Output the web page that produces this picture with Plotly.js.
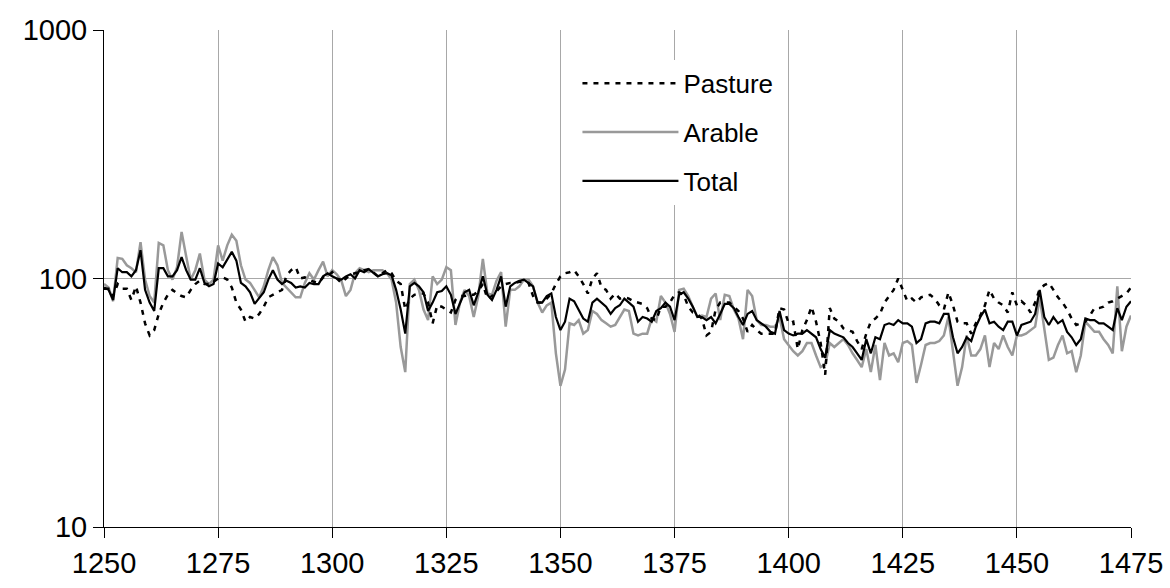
<!DOCTYPE html>
<html>
<head>
<meta charset="utf-8">
<script src="https://cdn.plot.ly/plotly-3.0.1.min.js"></script>
<style>html,body{margin:0;padding:0;background:#fff;}#chart{width:1170px;height:588px;}</style>
</head>
<body>
<div id="chart"></div>
<script>
const startYear = 1250;

const total = [
92,90,82,110,106,106,102,108,130,90,80,74,110,110,102,102,108,122,108,99,
99,110,96,93,95,115,111,120,128,118,96,93,88,79,83,88,99,108,99,95,
98,96,92,93,92,96,95,95,102,105,102,100,99,102,104,100,108,106,109,105,
102,104,105,103,90,75,60,93,96,93,88,74,80,88,89,93,86,72,80,88,
90,78,88,102,86,82,90,102,77,93,96,98,99,96,93,80,80,85,87,70,
62,67,83,81,75,69,67,80,83,80,77,72,76,78,83,80,77,67,70,69,
67,74,76,80,77,68,86,88,83,77,70,70,68,70,66,72,79,79,76,70,
65,72,74,68,66,64,61,60,74,62,60,59,60,60,62,60,58,52,48,62,
60,59,58,55,53,50,47,57,50,58,57,65,66,65,68,66,66,64,55,57,
66,67,67,66,72,72,58,50,53,58,56,64,70,75,66,67,64,62,67,67,
59,65,66,67,72,90,70,65,70,66,68,61,58,54,57,69,68,68,66,66,
64,62,76,68,77,81
];

const arable = [
95,92,81,121,120,113,110,106,140,99,85,80,139,136,108,99,111,154,123,99,
108,126,99,95,99,136,118,136,150,142,113,99,96,90,84,93,108,122,113,96,
92,88,84,84,96,105,99,108,117,102,108,104,98,85,90,105,110,108,106,108,
108,108,105,99,80,53,42,95,99,90,75,68,102,95,99,111,108,65,80,90,
85,70,85,120,87,86,98,106,64,90,90,93,99,99,93,80,73,78,80,50,
37,43,66,65,68,60,62,74,72,68,66,64,65,70,75,74,60,59,60,60,
69,67,85,80,72,61,90,91,85,77,70,71,70,83,87,68,86,85,75,69,
57,90,85,68,65,65,64,64,70,57,54,51,49,51,55,55,49,44,45,55,
53,55,57,54,50,47,44,52,42,54,39,55,49,50,46,55,56,54,38,45,
54,55,55,56,59,70,50,37,44,59,49,49,52,59,44,55,52,59,53,49,
59,59,60,62,64,84,64,47,48,54,59,50,51,42,49,67,64,61,61,57,
54,50,93,51,64,71
];

const pasture = [
91,91,85,95,91,91,82,93,80,66,59,62,72,80,86,90,87,85,84,90,
95,98,95,95,97,100,101,99,92,80,75,67,70,69,72,77,84,86,88,90,
103,108,111,100,101,99,97,96,101,102,106,100,96,100,104,105,106,108,109,106,
102,105,108,105,98,95,75,83,86,87,87,80,66,78,77,75,73,82,85,85,
86,86,89,95,83,85,89,93,95,96,96,97,97,96,85,80,80,83,87,95,
102,105,106,108,102,95,87,100,105,92,90,83,87,83,84,83,81,80,79,76,
69,68,77,77,80,86,88,86,77,73,72,69,59,61,75,80,80,80,77,74,
69,61,65,62,60,60,60,60,76,75,66,67,52,62,68,77,67,55,41,76,
69,67,63,62,61,56,52,60,67,69,72,80,85,90,100,90,81,83,80,84,
85,86,83,78,75,88,78,67,66,66,60,66,71,78,90,83,80,78,73,88,
78,81,78,73,80,91,94,96,90,84,80,75,69,65,66,67,71,76,76,77,
80,81,83,85,87,92
];

const seriesNames = ['Pasture', 'Arable', 'Total'];
const yTickVals = [10, 100, 1000];
const yTickText = ['10', '100', '1000'];
const xTickVals = [1250, 1275, 1300, 1325, 1350, 1375, 1400, 1425, 1450, 1475];

const years = total.map((_, i) => startYear + i);

const traces = [
  {x: years, y: arable, name: seriesNames[1], type: 'scatter', mode: 'lines',
   line: {color: '#999999', width: 2.5}, legendrank: 2, legendgroup: 'a'},
  {x: years, y: total, name: seriesNames[2], type: 'scatter', mode: 'lines',
   line: {color: '#000000', width: 2.2}, legendrank: 3, legendgroup: 't'},
  {x: years, y: pasture, name: seriesNames[0], type: 'scatter', mode: 'lines',
   line: {color: '#000000', width: 2.5, dash: '5px,6px'}, legendrank: 1, legendgroup: 'p'}
];

const fontFam = '"Liberation Sans", Arial, sans-serif';

const layout = {
  width: 1170, height: 588,
  margin: {l: 104, r: 39, t: 30, b: 61},
  paper_bgcolor: '#ffffff', plot_bgcolor: '#ffffff',
  font: {family: fontFam, color: '#000000'},
  showlegend: true,
  legend: {
    x: 0.461, y: 0.94, xanchor: 'left', yanchor: 'top',
    bgcolor: '#ffffff', borderwidth: 0,
    font: {family: fontFam, size: 26, color: '#000000'},
    itemwidth: 96, tracegroupgap: 12, traceorder: 'grouped'
  },
  xaxis: {
    range: [1250, 1475], tickvals: xTickVals,
    showgrid: true, gridcolor: '#a8a8a8', gridwidth: 1,
    showline: true, linecolor: '#000000', linewidth: 1,
    ticks: 'outside', ticklen: 10, tickcolor: '#000000', tickwidth: 1,
    tickfont: {family: fontFam, size: 29, color: '#000000'},
    zeroline: false, fixedrange: true
  },
  yaxis: {
    type: 'log', range: [1, 3], tickvals: yTickVals, ticktext: yTickText,
    showgrid: true, gridcolor: '#a8a8a8', gridwidth: 1,
    showline: true, linecolor: '#000000', linewidth: 1,
    ticks: 'outside', ticklen: 10, tickcolor: '#000000', tickwidth: 1,
    tickfont: {family: fontFam, size: 29, color: '#000000'},
    zeroline: false, fixedrange: true
  }
};

Plotly.newPlot('chart', traces, layout, {displayModeBar: false, staticPlot: true});
</script>
</body>
</html>
